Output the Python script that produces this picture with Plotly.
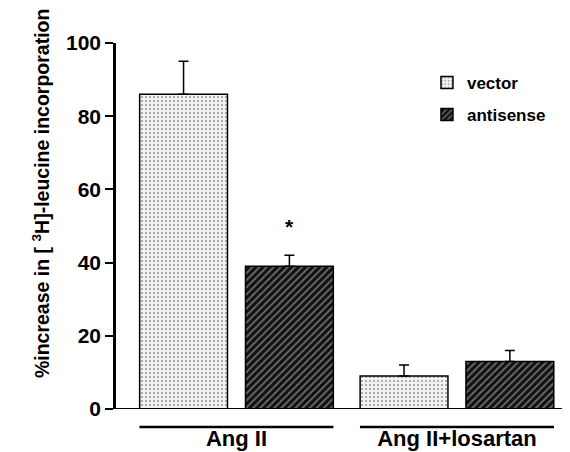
import plotly.graph_objects as go

categories = ["Ang II", "Ang II+losartan"]
vector_vals = [86, 9]
vector_err = [9, 3]
antisense_vals = [39, 13]
antisense_err = [3, 3]
series_names = ["vector", "antisense"]
y_ticks = [0, 20, 40, 60, 80, 100]
y_title = "%increase in [ <sup>3</sup>H]-leucine incorporation"

FONT = "Liberation Sans, Arial, Helvetica, sans-serif"

fig = go.Figure()
fig.add_trace(go.Bar(
    name=series_names[0], x=categories, y=vector_vals,
    marker=dict(color="#f2f2f2", line=dict(color="black", width=1.5),
                pattern=dict(shape=".", fgcolor="#333", size=4, solidity=0.2)),
    error_y=dict(type="data", symmetric=False, array=vector_err,
                 arrayminus=[0] * len(vector_err), color="black", thickness=1.5, width=5),
    legendgroup="a",
))
fig.add_trace(go.Bar(
    name=series_names[1], x=categories, y=antisense_vals,
    marker=dict(color="#111111", line=dict(color="black", width=1.5),
                pattern=dict(shape="/", fgcolor="#c8c8c8", size=5, solidity=0.35)),
    error_y=dict(type="data", symmetric=False, array=antisense_err,
                 arrayminus=[0] * len(antisense_err), color="black", thickness=1.5, width=5),
    legendgroup="b",
))

# significance star above antisense Ang II
fig.add_annotation(x=0.24, y=antisense_vals[0] + antisense_err[0] + 8, xref="x", yref="y",
                   text="*", showarrow=False, font=dict(size=21, family=FONT, color="black"),
                   yanchor="middle")

# y-axis title as rotated annotation
fig.add_annotation(x=-0.163, y=0.59, xref="paper", yref="paper", text=y_title,
                   textangle=-90, showarrow=False, xanchor="center", yanchor="middle",
                   font=dict(size=19.5, family=FONT, color="black", weight="bold"))

# x axis baseline (extends slightly left of y axis)
fig.add_shape(type="line", xref="paper", yref="y", x0=-0.0174, x1=1, y0=0, y1=0,
              line=dict(color="black", width=2))
# group underlines
for i in range(len(categories)):
    fig.add_shape(type="line", xref="x", yref="paper", x0=i - 0.44, x1=i + 0.44,
                  y0=-0.049, y1=-0.049, line=dict(color="black", width=2.5))

fig.update_layout(
    width=570, height=452,
    margin=dict(l=108, r=2, t=35, b=51),
    paper_bgcolor="white", plot_bgcolor="white",
    barmode="group", bargap=0.04, bargroupgap=0.17,
    font=dict(family=FONT, color="black", weight="bold"),
    legend=dict(x=0.676, y=0.94, xanchor="left", yanchor="top",
                font=dict(size=17, family=FONT, weight="bold"),
                bgcolor="rgba(0,0,0,0)", tracegroupgap=7, itemwidth=30),
    showlegend=True,
)
fig.update_xaxes(type="category", range=[-0.5465, 1.54], showline=False, ticks="",
                 showgrid=False, zeroline=False, tickfont=dict(size=22, family=FONT, weight="bold"),
                 ticklabelstandoff=14)
fig.update_yaxes(range=[0, 100], tickvals=y_ticks, showline=True, linecolor="black", linewidth=2.5,
                 ticks="outside", ticklen=8, tickwidth=2, tickcolor="black",
                 showgrid=False, zeroline=False,
                 tickfont=dict(size=21, family=FONT, weight="bold"))

fig.write_html("out.html")
